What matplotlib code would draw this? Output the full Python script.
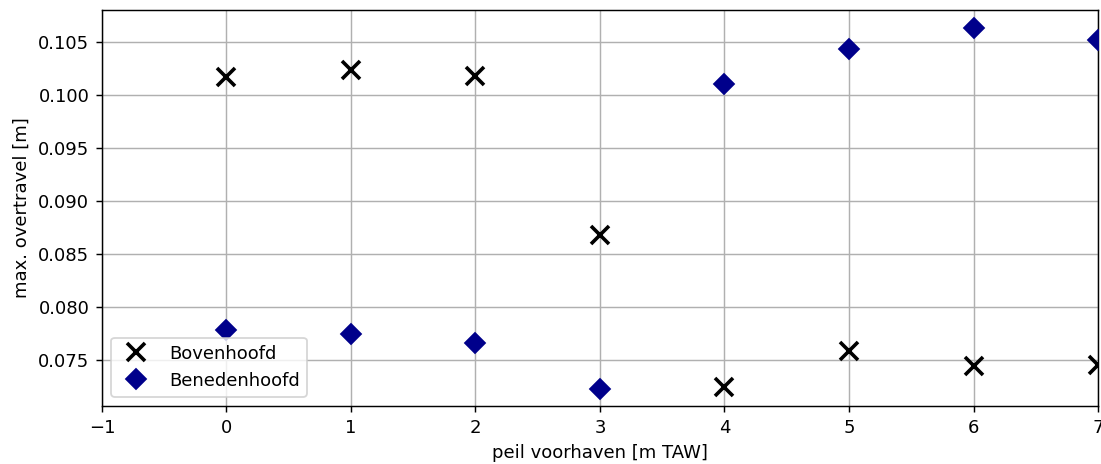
import matplotlib.pyplot as plt

# peil voorhaven [m TAW]
peil = [0, 1, 2, 3, 4, 5, 6, 7]

# max. overtravel [m] per hoofd
bovenhoofd = [0.1017, 0.10236, 0.10179, 0.08679, 0.07245, 0.07585, 0.07443, 0.07453]
benedenhoofd = [0.07783, 0.07745, 0.0766, 0.07226, 0.10104, 0.10434, 0.10632, 0.10519]


def main():
    dpi = 130
    fig = plt.figure(figsize=(1101 / dpi, 464 / dpi), dpi=dpi)
    ax = fig.add_axes([0.0926, 0.125, 0.9047, 0.853])

    ax.plot(peil, bovenhoofd, linestyle='none', marker='x', markersize=10,
            markeredgewidth=2.0, color='black', label='Bovenhoofd', zorder=3)
    ax.plot(peil, benedenhoofd, linestyle='none', marker='D', markersize=8,
            color='darkblue', label='Benedenhoofd', zorder=3)

    ax.set_xlim(-1, 7)
    ax.set_ylim(0.07066, 0.10802)
    ax.grid(True, color='#b0b0b0', linewidth=0.8)
    ax.set_axisbelow(True)

    ax.set_xlabel('peil voorhaven [m TAW]')
    ax.set_ylabel('max. overtravel [m]')
    ax.legend(loc='lower left')

    fig.savefig('out.png', dpi=dpi)


if __name__ == '__main__':
    main()
